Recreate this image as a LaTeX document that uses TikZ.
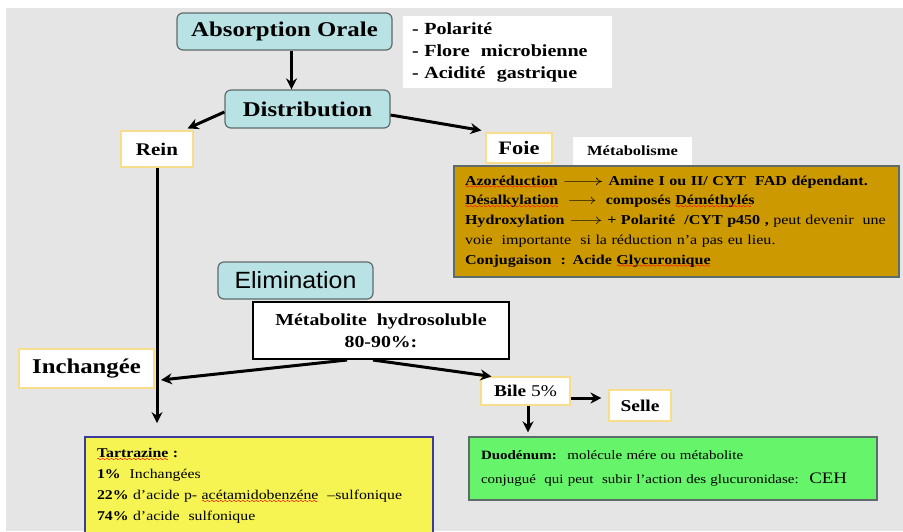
\documentclass[tikz,border=0pt]{standalone}
\usepackage{fontspec}
\setmainfont{Liberation Serif}[FakeStretch=1.18]
\newfontfamily\fontesans{Liberation Sans}[FakeStretch=1.06]
\usetikzlibrary{arrows.meta}

\definecolor{sfondo}{HTML}{E5E5E5}
\definecolor{azzurro}{HTML}{B9E2E5}
\definecolor{bordo_grigio}{HTML}{5E6B6B}
\definecolor{giallino}{HTML}{F6DE8C}
\definecolor{oro}{HTML}{CC9A00}
\definecolor{verde}{HTML}{66F46A}
\definecolor{giallo}{HTML}{F5F452}
\definecolor{blu_bordo}{HTML}{3C3C9C}

\newcommand\corpo[2]{\fontsize{#1}{#2}\selectfont}
\newcommand\fr[1]{\scalebox{#1}[1]{$\longrightarrow$}}
\newsavebox\ondabox
\newsavebox\parolabox
\newcommand\ondina[1]{\sbox\parolabox{#1}%
  \rlap{\lower2.2pt\hbox to\wd\parolabox{\leaders\copy\ondabox\hfill}}\usebox\parolabox}

\begin{document}
\sbox\ondabox{\pgfpicture
  \pgfsetlinewidth{0.45pt}\pgfsetstrokecolor{red}
  \pgfpathmoveto{\pgfpointorigin}
  \pgfpathsine{\pgfpoint{1pt}{0.7pt}}\pgfpathcosine{\pgfpoint{1pt}{-0.7pt}}
  \pgfpathsine{\pgfpoint{1pt}{-0.7pt}}\pgfpathcosine{\pgfpoint{1pt}{0.7pt}}
  \pgfusepath{stroke}\endpgfpicture}
\begin{tikzpicture}[x=1pt,y=-1pt]

\tikzset{
    riquadro_azzurro/.style={
        draw=bordo_grigio, fill=azzurro, rounded corners=6pt,
        line width=1.2pt, inner sep=0pt
    }
}

\tikzset{
    riquadro_bianco/.style={
        draw=giallino, fill=white, line width=1.1pt, inner sep=0pt
    }
}

\tikzset{
    freccia_nera/.style={
        line width=3pt, -{Stealth[length=11pt,width=11pt]}
    }
}

% sfondo
\useasboundingbox (0,0) rectangle (903,531);
\clip (0,0) rectangle (903,531);
\fill[sfondo] (6,8) rectangle (903,531);

% parte alta
\node[riquadro_azzurro, minimum width=215pt, minimum height=37pt,
  font=\corpo{21}{25}\bfseries] (assorbimento) at (284.5,31.5) {Absorption Orale};
\node[fill=white, inner xsep=9pt, inner ysep=0pt, text width=191pt,
  minimum height=72pt, align=left, font=\corpo{17}{22}\bfseries] (note) at (507.5,52)
  {- Polarité\\ - Flore~ microbienne\\ - Acidité~ gastrique};
\node[riquadro_azzurro, minimum width=165pt, minimum height=38pt,
  font=\corpo{21}{25}\bfseries] (distribuzione) at (307.5,109) {Distribution};

% rene e fegato
\node[riquadro_bianco, minimum width=72pt, minimum height=36pt,
  font=\corpo{17.8}{21}\bfseries] (rene) at (157,149) {Rein};
\node[riquadro_bianco, minimum width=66pt, minimum height=30pt,
  font=\corpo{19}{22}\bfseries] (fegato) at (519,148) {Foie};
\node[fill=white, inner sep=0pt, minimum width=119pt, minimum height=28pt,
  font=\corpo{14}{17}\bfseries] (metabolismo) at (632.5,151) {Métabolisme};
\node[draw=bordo_grigio, fill=oro, line width=1.2pt, inner xsep=11pt, inner ysep=0pt,
  text width=423pt, minimum height=111pt, align=left, font=\corpo{13.6}{19.8}]
  (reazioni) at (676.5,221.5)
  {\textbf{\ondina{Azoréduction} \fr{1.8} Amine I ou II/ CYT~ FAD dépendant.}\\
   \textbf{\ondina{Désalkylation}~ \fr{1.25}~ composés \ondina{Déméthylés}}\\
   \textbf{Hydroxylation \fr{1.45} + Polarité~ /CYT p450 ,} peut devenir~ une\\
   voie~ importante~ si la réduction n'a pas eu lieu.\\
   \textbf{Conjugaison~ : Acide \ondina{Glycuronique}}};

% eliminazione
\node[riquadro_azzurro, minimum width=155pt, minimum height=37pt,
  font=\fontesans\corpo{23.5}{28}] (eliminazione) at (295.5,280.5) {Elimination};
\node[draw=black, fill=white, line width=2pt, inner sep=0pt, minimum width=256pt,
  minimum height=57pt, align=center, font=\corpo{16.8}{22}\bfseries]
  (metabolita) at (381,330.5) {Métabolite~ hydrosoluble\\ 80-90\%:};
\node[riquadro_bianco, minimum width=135pt, minimum height=39pt,
  font=\corpo{21}{25}\bfseries] (inchangee) at (86.5,368.5) {Inchangée};
\node[riquadro_bianco, minimum width=89pt, minimum height=28pt,
  font=\corpo{16.4}{20}] (bile) at (525.5,391) {\textbf{Bile} 5\%};
\node[riquadro_bianco, minimum width=62pt, minimum height=31pt,
  font=\corpo{16.5}{20}\bfseries] (feci) at (640,405.5) {Selle};

% riquadri in basso
\node[draw=bordo_grigio, fill=verde, line width=1.2pt, inner xsep=12pt, inner ysep=0pt,
  text width=384pt, minimum height=63pt, align=left, font=\corpo{12.7}{24}]
  (duodeno) at (673,468.5)
  {\textbf{Duodénum:}~ molécule mére ou métabolite\\
   conjugué~ qui peut~ subir l'action des glucuronidase:~ {\corpo{16}{24}CEH}};
\node[draw=blu_bordo, fill=giallo, line width=1.8pt, inner xsep=12pt, inner ysep=0pt,
  text width=324pt, minimum height=98pt, align=left, font=\corpo{13.4}{21}]
  (tartrazina) at (259,486)
  {\textbf{\ondina{Tartrazine} :}\\
   \textbf{1\%}~ Inchangées\\
   \textbf{22\%} d'acide p- \ondina{acétamidobenzéne}~ –sulfonique\\
   \textbf{74\%} d'acide~ sulfonique};

\coordinate (incrocio) at (161,380);

% frecce
\draw[freccia_nera] ([xshift=7pt]assorbimento.south) -- ([xshift=7pt]assorbimento.south |- distribuzione.north);
\draw[freccia_nera] ([yshift=-3pt]distribuzione.west) -- ([xshift=-6pt,yshift=2pt]rene.north east);
\draw[freccia_nera] ([yshift=-6pt]distribuzione.east) -- ([xshift=-4pt,yshift=2pt]fegato.north west);
\draw[freccia_nera] (rene.south) -- ([yshift=13pt]rene.south |- tartrazina.north);
\draw[freccia_nera] ([xshift=-34pt]metabolita.south) -- (incrocio);
\draw[freccia_nera] ([xshift=-8pt]metabolita.south) -- ([xshift=11pt]bile.north west);
\draw[freccia_nera, shorten >=7pt] ([yshift=-7pt]bile.east) -- ([yshift=-7pt]bile.east -| feci.west);
\draw[freccia_nera, shorten >=4pt] ([xshift=2.5pt]bile.south) -- ([xshift=2.5pt]bile.south |- duodeno.north);

\end{tikzpicture}
\end{document}
